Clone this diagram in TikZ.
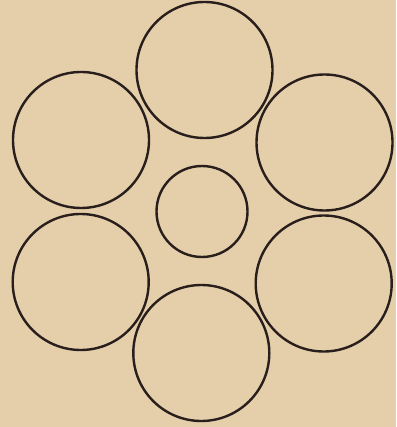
\documentclass[tikz,border=0pt]{standalone}
\definecolor{paper}{RGB}{229,206,170}
\definecolor{ink}{RGB}{40,30,28}
\begin{document}
\begin{tikzpicture}[x=1pt,y=-1pt,
  ring/.style={circle,draw=ink,line width=2.4pt,inner sep=0pt,minimum size=136pt},
  smallring/.style={ring,minimum size=91pt}]
\fill[paper] (0,0) rectangle (396,427);
\useasboundingbox (0,0) rectangle (396,427);
\node[ring] (top) at (204.5,70) {};
\node[ring] (tl) at (81,140) {};
\node[ring] (tr) at (324.5,142.5) {};
\node[smallring] (mid) at (202,211.5) {};
\node[ring] (bl) at (80.7,282) {};
\node[ring] (br) at (323.7,283.5) {};
\node[ring] (bot) at (201.3,353) {};
\end{tikzpicture}
\end{document}
